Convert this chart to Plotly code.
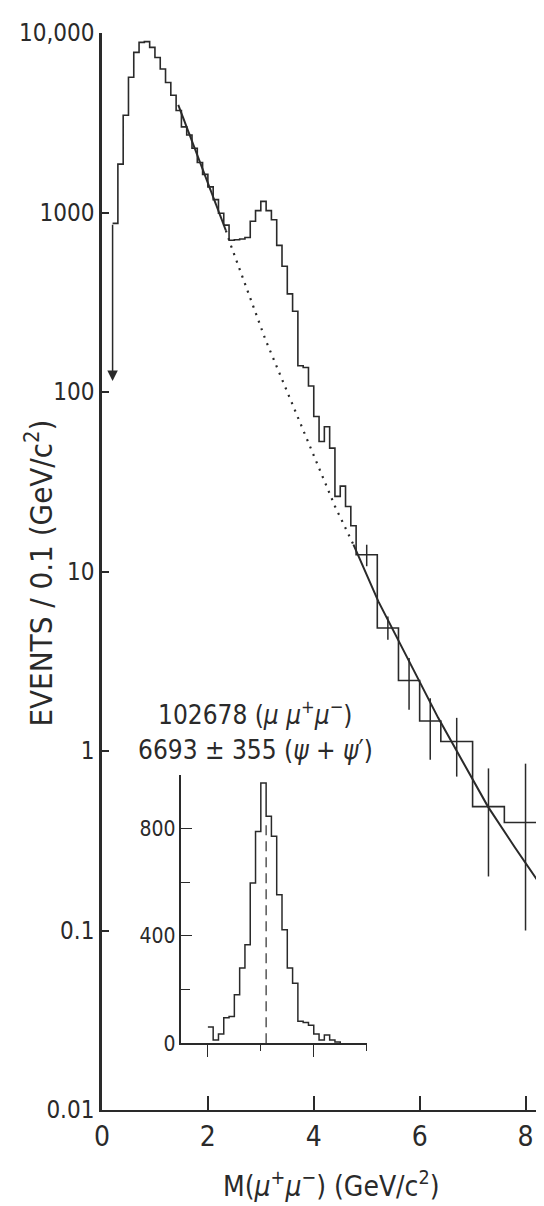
import plotly.graph_objects as go
import math

# ---- data ----
# main spectrum: 0.1 GeV bins, lower edges 0.2 ... 4.7
fine_lo = [round(0.2 + 0.1 * i, 1) for i in range(46)]
fine_counts = [870, 1860, 3480, 5670, 7800, 8870, 8950, 8320,
               7300, 6300, 5300, 4500, 3700, 3000, 2700, 2280, 1900, 1630,
               1390, 1180, 990, 850, 700, 705, 712, 725, 893, 1025,
               1153, 1025, 912, 656, 502, 352, 282, 140, 137, 108,
               73, 53, 64, 48.7, 26.2, 29.9, 23, 18]
# wide tail bins (events per 0.1 GeV)
tail_edges = [4.8, 5.2, 5.6, 6.0, 6.4, 7.0, 7.6, 8.4]
tail_counts = [12.4, 4.84, 2.47, 1.47, 1.13, 0.49, 0.40]
tail_err_hi = [14.1, 5.62, 3.30, 1.97, 1.53, 0.80, 0.85]
tail_err_lo = [10.7, 4.17, 1.70, 0.895, 0.72, 0.20, 0.10]

# continuum fit curve
fit_solid1_m = [1.44, 2.34]
fit_solid1_v = [3980, 794]
fit_dot_m = [2.34, 2.44, 3.09, 4.40, 4.75]
fit_dot_v = [794, 649, 195, 23.1, 14.1]
fit_solid2_m = [4.75, 5.22, 6.35, 7.29, 7.80, 8.40]
fit_solid2_v = [14.1, 6.82, 1.53, 0.49, 0.29, 0.16]

# inset: psi signal, 0.1 GeV bins, lower edges 2.0 ... 4.4
inset_lo = [round(2.0 + 0.1 * i, 1) for i in range(25)]
inset_counts = [61, 12, 35, 95, 100, 181, 280, 367, 597, 789,
                969, 845, 771, 553, 423, 280, 224, 82, 78, 67,
                35, 12, 31, 12, 5]
psi_mass = 3.1
psi_line_top = 820

y_tickvals = [10000, 1000, 100, 10, 1, 0.1, 0.01]
y_ticktext = ["10,000", "1000", "100", "10", "1", "0.1", "0.01"]
x_tickvals = [0, 2, 4, 6, 8]
x_ticktext = ["0", "2", "4", "6", "8"]
inset_ytickvals = [0, 400, 800]

FONT = "DejaVu Sans Condensed, Liberation Sans Narrow, Arial Narrow, sans-serif"
INK = "#2a2a2a"

# ---- build step arrays ----
edges = fine_lo + tail_edges
counts = fine_counts + tail_counts
step_x = edges
step_y = counts + [counts[-1]]

centers = [(a + b) / 2 for a, b in zip(tail_edges[:-1], tail_edges[1:])]

in_x = inset_lo + [round(inset_lo[-1] + 0.1, 1)]
in_y = inset_counts + [0]

fig = go.Figure()

fig.add_trace(go.Scatter(x=step_x, y=step_y, mode="lines", line_shape="hv",
                         line=dict(color=INK, width=1.6), showlegend=False,
                         hoverinfo="skip"))
fig.add_trace(go.Scatter(x=centers, y=tail_counts, mode="markers",
                         marker=dict(size=1, color=INK),
                         error_y=dict(type="data", symmetric=False,
                                      array=[h - c for h, c in zip(tail_err_hi, tail_counts)],
                                      arrayminus=[c - l for l, c in zip(tail_err_lo, tail_counts)],
                                      color=INK, thickness=1.5, width=0),
                         showlegend=False, hoverinfo="skip"))
fig.add_trace(go.Scatter(x=fit_solid1_m, y=fit_solid1_v, mode="lines",
                         line=dict(color=INK, width=2), showlegend=False))
fig.add_trace(go.Scatter(x=fit_dot_m, y=fit_dot_v, mode="lines",
                         line=dict(color=INK, width=2.2, dash="2px,6px"),
                         showlegend=False))
fig.add_trace(go.Scatter(x=fit_solid2_m, y=fit_solid2_v, mode="lines",
                         line=dict(color=INK, width=2), showlegend=False))

# inset
fig.add_trace(go.Scatter(x=in_x, y=in_y, mode="lines", line_shape="hv",
                         line=dict(color=INK, width=1.5), xaxis="x2", yaxis="y2",
                         showlegend=False))
fig.add_trace(go.Scatter(x=[psi_mass, psi_mass], y=[0, psi_line_top], mode="lines",
                         line=dict(color=INK, width=1.2, dash="10px,6px"),
                         xaxis="x2", yaxis="y2", showlegend=False))

fig.update_layout(
    width=544, height=1206,
    margin=dict(l=93.5, r=0, t=25, b=104),
    paper_bgcolor="white", plot_bgcolor="white",
    font=dict(family=FONT, color=INK),
    xaxis=dict(range=[0, 8.5], showgrid=False, zeroline=False,
               showline=True, linecolor=INK, linewidth=2,
               tickvals=x_tickvals, ticktext=x_ticktext,
               ticks="inside", ticklen=14, tickwidth=1.5, tickcolor=INK,
               tickfont=dict(size=28, family=FONT, color=INK)),
    yaxis=dict(type="log", range=[-2, 4], showgrid=False, zeroline=False,
               showline=True, linecolor=INK, linewidth=2.5,
               tickvals=y_tickvals, ticktext=y_ticktext,
               ticks="inside", ticklen=7, tickwidth=1.5, tickcolor=INK,
               tickfont=dict(size=24, family=FONT, color=INK)),
    xaxis2=dict(domain=[1.5 / 8.5, 5.0 / 8.5], range=[1.5, 5.0], anchor="y2",
                showgrid=False, zeroline=False, showline=True, linecolor=INK,
                linewidth=1.5, tickvals=[2, 4], showticklabels=False,
                ticks="outside", ticklen=12, tickwidth=1.3, tickcolor=INK,
                minor=dict(tickvals=[3, 5], ticks="outside", ticklen=6,
                           tickwidth=1.3, tickcolor=INK)),
    yaxis2=dict(domain=[0.0619, 0.3113], range=[0, 1000], anchor="x2",
                showgrid=False, zeroline=False, showline=True, linecolor=INK,
                linewidth=1.5, tickvals=inset_ytickvals,
                ticktext=[str(v) for v in inset_ytickvals],
                ticks="inside", ticklen=11, tickwidth=1.3, tickcolor=INK,
                minor=dict(tickvals=[200, 600, 1000], ticks="inside", ticklen=9,
                           tickwidth=1.3, tickcolor=INK),
                tickfont=dict(size=21, family=FONT, color=INK)),
)

annots = [
    # left arrow (spectrum continues below)
    dict(x=fine_lo[0], y=math.log10(115), ax=fine_lo[0], ay=math.log10(fine_counts[0]),
         xref="x", yref="y", axref="x", ayref="y", text="", showarrow=True,
         arrowhead=2, arrowsize=1.4, arrowwidth=1.5, arrowcolor=INK),
    # right arrow
    dict(x=tail_edges[-1], y=math.log10(0.15), ax=tail_edges[-1], ay=math.log10(tail_counts[-1]),
         xref="x", yref="y", axref="x", ayref="y", text="", showarrow=True,
         arrowhead=2, arrowsize=1.4, arrowwidth=1.5, arrowcolor=INK),
    dict(text="102678 (<i>μ μ</i><sup>+</sup><i>μ</i><sup>−</sup>)", x=247, y=705,
         xref="paper", yref="paper", showarrow=False, font=dict(size=26)),
    dict(text="6693 ± 355 (<i>ψ</i> + <i>ψ</i>′)", x=247, y=742,
         xref="paper", yref="paper", showarrow=False, font=dict(size=26)),
    dict(text="M(<i>μ</i><sup>+</sup><i>μ</i><sup>−</sup>) (GeV/c<sup>2</sup>)", x=323, y=1176,
         xref="paper", yref="paper", showarrow=False, font=dict(size=28)),
    dict(text="EVENTS / 0.1 (GeV/c<sup>2</sup>)", x=30, y=565, textangle=-90,
         xref="paper", yref="paper", showarrow=False, font=dict(size=31)),
]
# convert pixel positions to paper coords for text annotations
L, R, T, B = 93.5, 544.0, 25.0, 1102.0
for a in annots:
    if a.get("xref") == "paper":
        a["x"] = (a["x"] - L) / (R - L)
        a["y"] = (B - a["y"]) / (B - T)
        a["xanchor"] = "center"
        a["yanchor"] = "middle"
fig.update_layout(annotations=annots)

fig.write_html("out.html")
